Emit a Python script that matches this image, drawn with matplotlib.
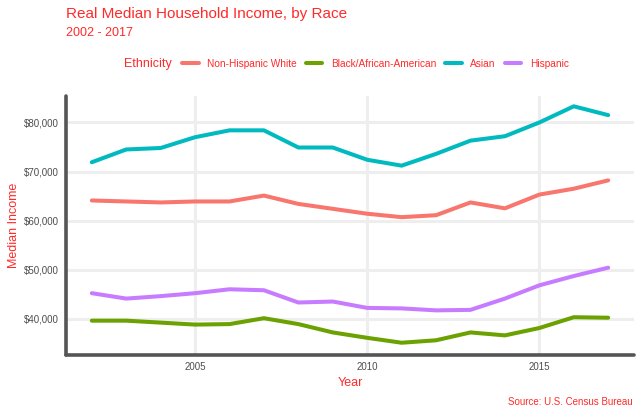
import numpy as np
import matplotlib.pyplot as plt
from matplotlib.ticker import FuncFormatter

plt.rcParams['font.family'] = ['Liberation Sans', 'DejaVu Sans']

years = list(range(2002, 2018))
white = [64.1, 63.9, 63.7, 63.9, 63.9, 65.1, 63.4, 62.4, 61.4, 60.7, 61.1, 63.7, 62.5, 65.3, 66.5, 68.2]
black = [39.6, 39.6, 39.2, 38.8, 38.9, 40.1, 38.9, 37.2, 36.1, 35.1, 35.6, 37.2, 36.6, 38.1, 40.3, 40.2]
asian = [71.9, 74.5, 74.8, 77.0, 78.4, 78.4, 74.9, 74.9, 72.4, 71.2, 73.6, 76.3, 77.2, 80.0, 83.3, 81.5]
hispanic = [45.2, 44.1, 44.6, 45.2, 46.0, 45.8, 43.3, 43.5, 42.2, 42.1, 41.7, 41.8, 44.1, 46.8, 48.7, 50.4]

groups = ['Non-Hispanic White', 'Black/African-American', 'Asian', 'Hispanic']
series = [white, black, asian, hispanic]
colors = ['#F8766D', '#6BA100', '#00BAC0', '#C77CFF']

RED = '#FF2A2A'
GRID = '#EEEEEE'
SPINE = '#555555'

fig = plt.figure(figsize=(6.4, 4.12), dpi=100)
ax = fig.add_axes([66 / 640, 1 - 355 / 412, 568 / 640, 259 / 412])

handles = []
for name, vals, c in zip(groups, series, colors):
    h, = ax.plot(years, np.array(vals) * 1000, color=c, lw=2.9,
                 solid_capstyle='round', solid_joinstyle='round', label=name, zorder=3)
    handles.append(h)

ax.set_xlim(2001.25, 2017.75)
ax.set_ylim(32600, 85400)
ax.set_xticks([2005, 2010, 2015])
ax.set_yticks([40000, 50000, 60000, 70000, 80000])
ax.yaxis.set_major_formatter(FuncFormatter(lambda v, p: '${:,.0f}'.format(v)))
ax.grid(True, color=GRID, lw=2.2, zorder=0)
ax.set_axisbelow(True)
ax.tick_params(length=0, labelsize=7, labelcolor='#4D4D4D', pad=5)

for s in ['top', 'right']:
    ax.spines[s].set_visible(False)
for s in ['left', 'bottom']:
    ax.spines[s].set_color(SPINE)
    ax.spines[s].set_linewidth(2.6)
    ax.spines[s].set_capstyle('round')

ax.set_xlabel('Year', color=RED, fontsize=9, labelpad=4)
ax.set_ylabel('Median Income', color=RED, fontsize=9, labelpad=3)

fig.text(66 / 640, 1 - 14 / 412, 'Real Median Household Income, by Race',
         color=RED, fontsize=11, ha='left', va='center')
fig.text(66 / 640, 1 - 33 / 412, '2002 - 2017', color=RED, fontsize=9,
         ha='left', va='center')
fig.text(124 / 640, 1 - 64 / 412, 'Ethnicity', color=RED, fontsize=9,
         ha='left', va='center')
leg = fig.legend(handles=handles, labels=groups, loc='center left',
                 bbox_to_anchor=(182 / 640, 1 - 64 / 412), ncol=4, frameon=False,
                 fontsize=7.3, handlelength=1.65, handletextpad=0.85, columnspacing=0.85,
                 borderaxespad=0, borderpad=0)
for t in leg.get_texts():
    t.set_color(RED)

fig.text(633 / 640, 1 - 402 / 412, 'Source: U.S. Census Bureau', color=RED,
         fontsize=7, ha='right', va='center')

fig.savefig('out.png', dpi=100, facecolor='white')
